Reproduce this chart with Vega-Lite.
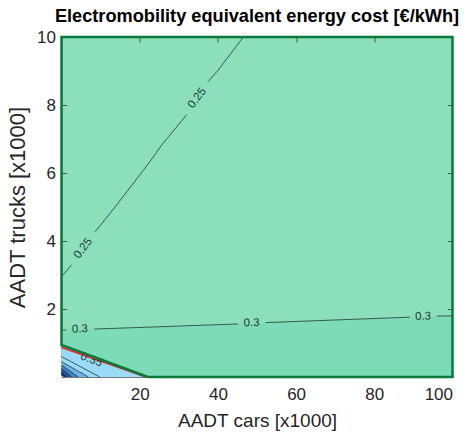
{
  "$schema": "https://vega.github.io/schema/vega-lite/v6.json",
  "width": 391,
  "height": 340,
  "autosize": "none",
  "padding": {"left": 61.5, "top": 37, "right": 15.5, "bottom": 60},
  "title": {"text": "Electromobility equivalent energy cost [€/kWh]", "fontSize": 18.2, "fontWeight": "bold", "font": "Liberation Sans", "color": "#000000", "anchor": "middle", "offset": 2},
  "config": {
    "view": {"fill": "#8bdfbb", "stroke": null},
    "font": "Liberation Sans",
    "axis": {"grid": false, "domainColor": "#555555", "domainWidth": 0.8, "tickColor": "#333333", "tickWidth": 0.8, "labelColor": "#262626", "titleColor": "#262626", "labelFont": "Liberation Sans", "titleFont": "Liberation Sans", "labelFontSize": 17, "titleFontSize": 19, "titleFontWeight": "normal", "tickSize": -5, "zindex": 1}
  },
  "datasets": {
    "line03": [
      {"x": 0, "y": 1.38}, {"x": 8.4, "y": 1.41}, {"x": 45.2, "y": 1.56},
      {"x": 52.2, "y": 1.6}, {"x": 89.1, "y": 1.76}, {"x": 100, "y": 1.8}
    ],
    "bands": [
      {"band": "b1", "x": 0, "y": 0.92}, {"band": "b1", "x": 21.9, "y": 0},
      {"band": "b2", "x": 0, "y": 0.45}, {"band": "b2", "x": 6.9, "y": 0},
      {"band": "b3", "x": 0, "y": 0.35}, {"band": "b3", "x": 4.3, "y": 0},
      {"band": "b4", "x": 0, "y": 0.25}, {"band": "b4", "x": 2.6, "y": 0},
      {"band": "b5", "x": 0, "y": 0.16}, {"band": "b5", "x": 1.3, "y": 0},
      {"band": "b6", "x": 0, "y": 0.06}, {"band": "b6", "x": 0.5, "y": 0}
    ],
    "contours": [
      {"seg": "a1", "x": 0, "y": 1.38}, {"seg": "a1", "x": 1.2, "y": 1.385},
      {"seg": "a2", "x": 8.4, "y": 1.41}, {"seg": "a2", "x": 45.2, "y": 1.56},
      {"seg": "a3", "x": 52.2, "y": 1.6}, {"seg": "a3", "x": 89.1, "y": 1.76},
      {"seg": "a4", "x": 96, "y": 1.79}, {"seg": "a4", "x": 100, "y": 1.8},
      {"seg": "b1", "x": 0, "y": 2.95}, {"seg": "b1", "x": 2.6, "y": 3.3},
      {"seg": "b2", "x": 8.6, "y": 4.27}, {"seg": "b2", "x": 13.7, "y": 5.0}, {"seg": "b2", "x": 22.6, "y": 6.33}, {"seg": "b2", "x": 25.6, "y": 6.82}, {"seg": "b2", "x": 32.0, "y": 7.71},
      {"seg": "b3", "x": 37.5, "y": 8.69}, {"seg": "b3", "x": 40.1, "y": 9.03}, {"seg": "b3", "x": 46.5, "y": 10},
      {"seg": "c1", "x": 0, "y": 0.6}, {"seg": "c1", "x": 9.8, "y": 0},
      {"seg": "c2", "x": 0, "y": 0.45}, {"seg": "c2", "x": 6.9, "y": 0},
      {"seg": "c3", "x": 0, "y": 0.35}, {"seg": "c3", "x": 4.3, "y": 0},
      {"seg": "c4", "x": 0, "y": 0.25}, {"seg": "c4", "x": 2.6, "y": 0}
    ],
    "redline": [{"x": 0, "y": 0.87}, {"x": 21.6, "y": 0}],
    "border": [
      {"i": 0, "x": 22.1, "y": 0}, {"i": 1, "x": 100, "y": 0}, {"i": 2, "x": 100, "y": 10},
      {"i": 3, "x": 0, "y": 10}, {"i": 4, "x": 0, "y": 0.94}, {"i": 5, "x": 22.1, "y": 0}
    ],
    "lab025": [{"t": "0.25", "x": 5.6, "y": 3.78}, {"t": "0.25", "x": 34.75, "y": 8.2}],
    "lab03": [{"t": "0.3", "x": 4.7, "y": 1.4}, {"t": "0.3", "x": 48.6, "y": 1.58}, {"t": "0.3", "x": 92.5, "y": 1.77}],
    "lab035": [{"t": "0.35", "x": 7.6, "y": 0.5}]
  },
  "layer": [
    {
      "layer": [
        {
          "data": {"name": "line03"},
          "mark": {"type": "area", "color": "#7ddbb7"},
          "encoding": {
            "x": {"field": "x", "type": "quantitative", "scale": {"domain": [0, 100], "nice": false}, "axis": {"values": [20, 40, 60, 80, 100], "title": "AADT cars [x1000]", "labelPadding": 14, "titlePadding": 9}},
            "y": {"field": "y", "type": "quantitative", "scale": {"domain": [0, 10], "nice": false}, "axis": {"values": [2, 4, 6, 8, 10], "title": "AADT trucks [x1000]", "labelPadding": 11, "titlePadding": 7, "titleFontSize": 22}},
            "y2": {"datum": 0}
          }
        },
        {
          "data": {"name": "bands"},
          "mark": {"type": "area"},
          "encoding": {
            "x": {"field": "x", "type": "quantitative"},
            "y": {"field": "y", "type": "quantitative", "stack": null},
            "y2": {"datum": 0},
            "color": {"field": "band", "type": "nominal", "legend": null, "scale": {"domain": ["b1", "b2", "b3", "b4", "b5", "b6"], "range": ["#9adcf7", "#6cb4ea", "#3f82c8", "#24569f", "#12306a", "#ffffff"]}}
          }
        },
        {
          "data": {"name": "contours"},
          "mark": {"type": "line", "color": "#1f3b33", "strokeWidth": 0.8},
          "encoding": {
            "x": {"field": "x", "type": "quantitative"},
            "y": {"field": "y", "type": "quantitative"},
            "detail": {"field": "seg"}
          }
        },
        {
          "data": {"name": "redline"},
          "mark": {"type": "line", "color": "#ff1a1a", "strokeWidth": 1.6},
          "encoding": {
            "x": {"field": "x", "type": "quantitative"},
            "y": {"field": "y", "type": "quantitative"}
          }
        },
        {
          "data": {"name": "lab025"},
          "mark": {"type": "text", "angle": -53, "fontSize": 11.5, "color": "#1f3b33", "font": "Liberation Sans"},
          "encoding": {
            "x": {"field": "x", "type": "quantitative"},
            "y": {"field": "y", "type": "quantitative"},
            "text": {"field": "t"}
          }
        },
        {
          "data": {"name": "lab03"},
          "mark": {"type": "text", "angle": -2, "fontSize": 11.5, "color": "#1f3b33", "font": "Liberation Sans"},
          "encoding": {
            "x": {"field": "x", "type": "quantitative"},
            "y": {"field": "y", "type": "quantitative"},
            "text": {"field": "t"}
          }
        },
        {
          "data": {"name": "lab035"},
          "mark": {"type": "text", "angle": 20, "fontSize": 11.5, "color": "#1f3b33", "font": "Liberation Sans"},
          "encoding": {
            "x": {"field": "x", "type": "quantitative"},
            "y": {"field": "y", "type": "quantitative"},
            "text": {"field": "t"}
          }
        }
      ]
    },
    {
      "data": {"name": "border"},
      "mark": {"type": "line", "color": "#0a7a3c", "strokeWidth": 2.5},
      "encoding": {
        "x": {"field": "x", "type": "quantitative", "axis": {"orient": "top", "values": [20, 40, 60, 80], "labels": false, "title": null, "domain": false}},
        "y": {"field": "y", "type": "quantitative", "axis": {"orient": "right", "values": [2, 4, 6, 8], "labels": false, "title": null, "domain": false}},
        "order": {"field": "i"}
      }
    }
  ],
  "resolve": {"axis": {"x": "independent", "y": "independent"}}
}
